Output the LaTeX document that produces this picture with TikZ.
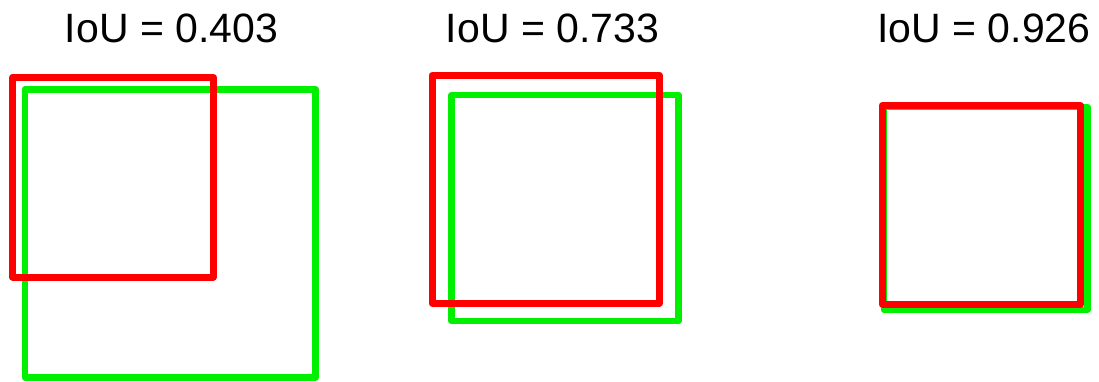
\documentclass[tikz,border=0pt]{standalone}
\usepackage{fontspec}
\setmainfont{Liberation Sans}
\begin{document}
\begin{tikzpicture}[x=1pt,y=-1pt,
  gtbox/.style={draw={rgb,255:red,0;green,240;blue,0},line width=6.5pt,line join=round},
  predbox/.style={draw={rgb,255:red,255;green,0;blue,0},line width=7pt,line join=round},
  lbl/.style={font=\fontsize{41}{48}\selectfont,inner sep=0pt,anchor=base}]
\useasboundingbox (0,0) rectangle (1099,382);
% ground-truth boxes (green)
\draw[gtbox] (25,89.3) rectangle (315.7,377.5);
\draw[gtbox] (451.7,95) rectangle (678.3,321);
\draw[gtbox] (884,107) rectangle (1087.3,310);
% predicted boxes (red)
\draw[predbox] (12.7,77.3) rectangle (213,277);
\draw[predbox] (432,75.3) rectangle (659.3,303.3);
\draw[predbox] (882.2,105.5) rectangle (1080.7,304);
% labels
\node[lbl] (l1) at (171.5,42.7) {IoU = 0.403};
\node[lbl] (l2) at (552.5,42.7) {IoU = 0.733};
\node[lbl] (l3) at (984,42.7) {IoU = 0.926};
\end{tikzpicture}
\end{document}
